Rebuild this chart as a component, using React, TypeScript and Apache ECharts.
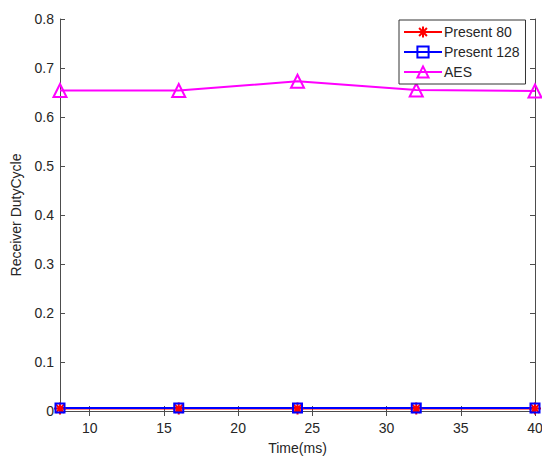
import React, { useEffect, useRef } from "react";
import * as echarts from "echarts";

const times = [8, 16, 24, 32, 40];
const present80 = [0.005, 0.005, 0.005, 0.005, 0.005];
const present128 = [0.006, 0.006, 0.006, 0.006, 0.006];
const aes = [0.654, 0.654, 0.673, 0.655, 0.653];
const xTicks = [10, 15, 20, 25, 30, 35, 40];
const seriesNames = ["Present 80", "Present 128", "AES"];

const FONT = "'Liberation Sans', Arial, sans-serif";
const AXIS_COLOR = "#4d4d4d";
const TEXT_COLOR = "#262626";
const ASTERISK = "path://M0,-10L0,10M-10,0L10,0M-7,-7L7,7M-7,7L7,-7";

export default function App() {
  const ref = useRef<HTMLDivElement>(null);
  useEffect(() => {
    if (!ref.current) return;
    const chart = echarts.init(ref.current, undefined, { renderer: "svg" });
    const pairs = (ys: number[]) => times.map((t, i) => [t, ys[i]]);
    const xCommon = {
      type: "value" as const,
      min: 8,
      max: 40,
      axisLine: { show: true, lineStyle: { color: AXIS_COLOR, width: 1 } },
      axisTick: { show: true, inside: true, length: 5, customValues: xTicks, lineStyle: { color: AXIS_COLOR } },
      splitLine: { show: false },
    };
    const yCommon = {
      type: "value" as const,
      min: 0,
      max: 0.8,
      interval: 0.1,
      axisLine: { show: true, lineStyle: { color: AXIS_COLOR, width: 1 } },
      axisTick: { show: true, inside: true, length: 5, lineStyle: { color: AXIS_COLOR } },
      splitLine: { show: false },
    };
    chart.setOption({
      animation: false,
      backgroundColor: "#ffffff",
      grid: { left: 60, top: 19, right: 7, bottom: 45, outerBoundsMode: "none", containLabel: false },
      legend: {
        data: seriesNames,
        orient: "vertical",
        left: 399,
        top: 20,
        width: 125,
        padding: [5, 6, 5, 4],
        itemGap: 6,
        itemWidth: 38,
        itemHeight: 14,
        backgroundColor: "#ffffff",
        borderColor: "#333333",
        borderWidth: 1,
        borderRadius: 0,
        textStyle: { fontFamily: FONT, fontSize: 14, color: TEXT_COLOR, padding: [0, 0, 0, -3] },
      },
      xAxis: [
        {
          ...xCommon,
          position: "bottom",
          name: "Time(ms)",
          nameLocation: "middle",
          nameGap: 30,
          nameTextStyle: { fontFamily: FONT, fontSize: 14, lineHeight: 14, color: TEXT_COLOR },
          axisLabel: {
            show: true,
            customValues: xTicks,
            fontFamily: FONT,
            fontSize: 14,
            color: TEXT_COLOR,
            margin: 10,
          },
        },
        {
          ...xCommon,
          position: "top",
          axisLabel: { show: false },
        },
      ],
      yAxis: [
        {
          ...yCommon,
          position: "left",
          name: "Receiver DutyCycle",
          nameLocation: "middle",
          nameGap: 37,
          nameTextStyle: { fontFamily: FONT, fontSize: 14, color: TEXT_COLOR },
          axisLabel: {
            show: true,
            fontFamily: FONT,
            fontSize: 14,
            color: TEXT_COLOR,
            margin: 6,
            formatter: (v: number) => (v === 0 ? "0" : v.toFixed(1)),
          },
        },
        {
          ...yCommon,
          position: "right",
          axisLabel: { show: false },
        },
      ],
      series: [
        {
          name: seriesNames[0],
          type: "line",
          data: pairs(present80),
          symbol: ASTERISK,
          symbolSize: 12,
          lineStyle: { color: "#ff0000", width: 2 },
          itemStyle: { color: "#ff0000", borderColor: "#ff0000", borderWidth: 2 },
        },
        {
          name: seriesNames[1],
          type: "line",
          data: pairs(present128),
          symbol: "rect",
          symbolSize: 9,
          lineStyle: { color: "#0000ff", width: 2 },
          itemStyle: { color: "rgba(0,0,0,0)", borderColor: "#0000ff", borderWidth: 2 },
        },
        {
          name: seriesNames[2],
          type: "line",
          data: pairs(aes),
          symbol: "triangle",
          symbolSize: 13,
          lineStyle: { color: "#ff00ff", width: 2 },
          itemStyle: { color: "rgba(0,0,0,0)", borderColor: "#ff00ff", borderWidth: 2 },
        },
      ],
    });
    return () => chart.dispose();
  }, []);
  return <div ref={ref} style={{ width: 542, height: 456, position: "absolute", left: 0, top: 0 }} />;
}
